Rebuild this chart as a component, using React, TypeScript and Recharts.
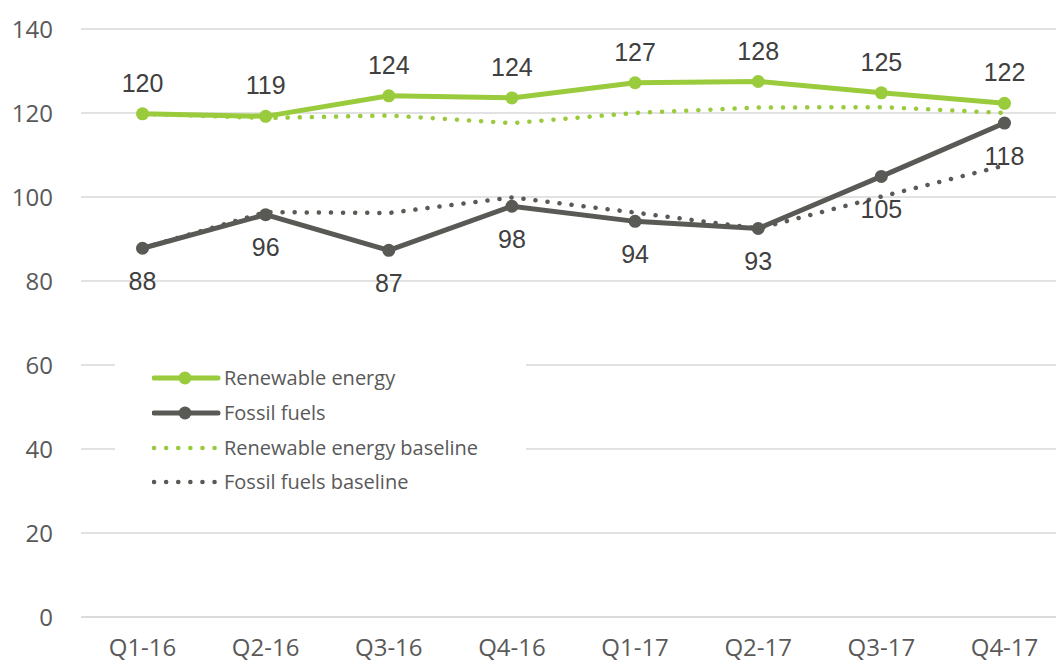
import React from 'react';
import { LineChart, Line, XAxis, YAxis, CartesianGrid, Legend, LabelList } from 'recharts';

const quarters = ['Q1-16', 'Q2-16', 'Q3-16', 'Q4-16', 'Q1-17', 'Q2-17', 'Q3-17', 'Q4-17'];
const renewable = [119.8, 119.2, 124.1, 123.6, 127.2, 127.5, 124.8, 122.3];
const fossil = [87.8, 95.8, 87.3, 97.8, 94.2, 92.5, 104.9, 117.6];
const renewableBaseline = [119.8, 118.8, 119.4, 117.6, 120.0, 121.3, 121.4, 120.0];
const fossilBaseline = [87.8, 96.4, 96.2, 99.9, 96.3, 92.5, 100.1, 107.5];
const yTicks = [0, 20, 40, 60, 80, 100, 120, 140];

const GREEN = '#9acb3c';
const GRAY = '#595955';
const TICK_FONT = '"Open Sans", "Noto Sans", sans-serif';
const LABEL_FONT = '"Liberation Sans", Arial, sans-serif';

const legendItems = [
  { name: 'Renewable energy', color: GREEN, dotted: false },
  { name: 'Fossil fuels', color: GRAY, dotted: false },
  { name: 'Renewable energy baseline', color: GREEN, dotted: true },
  { name: 'Fossil fuels baseline', color: GRAY, dotted: true },
];

const data = quarters.map((q, i) => ({
  quarter: q,
  renewable: renewable[i],
  fossil: fossil[i],
  renewableBaseline: renewableBaseline[i],
  fossilBaseline: fossilBaseline[i],
}));

function ChartLegend() {
  return (
    <div style={{ paddingLeft: 37, paddingTop: 8 }}>
      {legendItems.map((item) => (
        <div key={item.name} style={{ display: 'flex', alignItems: 'center', height: 34.7 }}>
          <svg width={72} height={20} style={{ display: 'block' }}>
            {item.dotted ? (
              <line
                x1={2}
                y1={10}
                x2={64}
                y2={10}
                stroke={item.color}
                strokeWidth={4.5}
                strokeLinecap="round"
                strokeDasharray="0.1 12"
              />
            ) : (
              <>
                <line x1={2} y1={10} x2={66} y2={10} stroke={item.color} strokeWidth={5} strokeLinecap="round" />
                <circle cx={33} cy={10} r={6.5} fill={item.color} />
              </>
            )}
          </svg>
          <span style={{ fontFamily: TICK_FONT, fontSize: 20, color: '#595959', lineHeight: 1 }}>{item.name}</span>
        </div>
      ))}
    </div>
  );
}

export default function App() {
  const round = (v: any) => Math.round(Number(v));
  return (
    <div style={{ position: 'absolute', left: 0, top: 0, width: 1056, height: 664, overflow: 'hidden', background: '#fff' }}>
      <LineChart width={1070} height={664} data={data} margin={{ top: 29, right: 4, left: 0, bottom: 17 }}>
        <CartesianGrid vertical={false} stroke="#d9d9d9" strokeWidth={1.5} />
        <XAxis
          dataKey="quarter"
          padding={{ left: 61.5, right: 61.5 }}
          axisLine={{ stroke: '#d9d9d9', strokeWidth: 1.5 }}
          tickLine={false}
          tickSize={0}
          tickMargin={22}
          height={30}
          tick={{ fontFamily: TICK_FONT, fontSize: 24, fill: '#595959' }}
        />
        <YAxis
          width={81}
          domain={[0, 140]}
          ticks={yTicks}
          axisLine={false}
          tickLine={false}
          tickSize={0}
          tickMargin={28}
          tick={{ fontFamily: TICK_FONT, fontSize: 24, fill: '#595959' }}
        />
        <Legend
          layout="vertical"
          align="center"
          verticalAlign="middle"
          content={() => <ChartLegend />}
          wrapperStyle={{ left: 115, top: 353, width: 411, height: 150, backgroundColor: '#fff' }}
        />
        <Line
          dataKey="renewableBaseline"
          stroke={GREEN}
          strokeWidth={4.5}
          strokeLinecap="round"
          strokeDasharray="0.1 12"
          dot={false}
          isAnimationActive={false}
        />
        <Line
          dataKey="fossilBaseline"
          stroke={GRAY}
          strokeWidth={4.5}
          strokeLinecap="round"
          strokeDasharray="0.1 12"
          dot={false}
          isAnimationActive={false}
        />
        <Line
          dataKey="renewable"
          stroke={GREEN}
          strokeWidth={5}
          dot={{ r: 6.5, fill: GREEN, stroke: GREEN, strokeWidth: 0 }}
          isAnimationActive={false}
        >
          <LabelList
            dataKey="renewable"
            position="top"
            offset={22}
            formatter={round}
            style={{ fontFamily: LABEL_FONT, fontSize: 25, fill: '#404040' }}
          />
        </Line>
        <Line
          dataKey="fossil"
          stroke={GRAY}
          strokeWidth={5}
          dot={{ r: 6.5, fill: GRAY, stroke: GRAY, strokeWidth: 0 }}
          isAnimationActive={false}
        >
          <LabelList
            dataKey="fossil"
            position="bottom"
            offset={24}
            formatter={round}
            style={{ fontFamily: LABEL_FONT, fontSize: 25, fill: '#404040' }}
          />
        </Line>
      </LineChart>
    </div>
  );
}
